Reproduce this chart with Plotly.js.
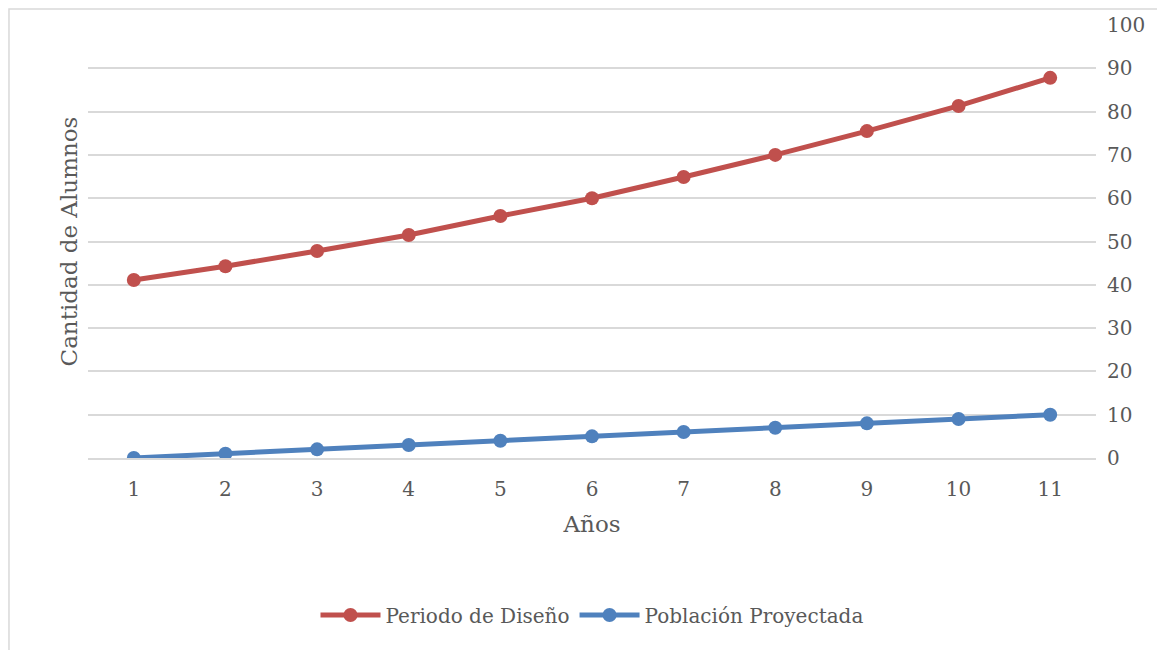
<!DOCTYPE html>
<html>
<head>
<meta charset="utf-8">
<script src="https://cdn.plot.ly/plotly-3.0.1.min.js"></script>
<style>html,body{margin:0;padding:0;background:#fff;}#chart{width:1157px;height:650px;}</style>
</head>
<body>
<div id="chart"></div>
<script>
const years = ["1","2","3","4","5","6","7","8","9","10","11"];
const periodoDiseno = [41.1, 44.3, 47.8, 51.5, 55.9, 60.0, 64.9, 70.0, 75.5, 81.3, 87.8];
const poblacionProyectada = [0, 1, 2, 3, 4, 5, 6, 7, 8, 9, 10];
const yTicks = [0,10,20,30,40,50,60,70,80,90,100];

const FONT = "DejaVu Serif, Liberation Serif, serif";
const GRAY = "#595959";

const traces = [
  {x: years, y: periodoDiseno, name: "Periodo de Diseño", type: "scatter", mode: "lines+markers",
   line: {color: "#C0504D", width: 5}, marker: {color: "#C0504D", size: 14}},
  {x: years, y: poblacionProyectada, name: "Población Proyectada", type: "scatter", mode: "lines+markers",
   line: {color: "#4F81BD", width: 5}, marker: {color: "#4F81BD", size: 14}}
];

const layout = {
  width: 1157, height: 650,
  margin: {l: 88, r: 61, t: 25, b: 192},
  paper_bgcolor: "#fff", plot_bgcolor: "#fff",
  font: {family: FONT, size: 19, color: GRAY},
  showlegend: true,
  legend: {orientation: "h", x: 0.5, xanchor: "center", y: -0.3626, yanchor: "middle",
           font: {family: FONT, size: 20, color: GRAY}, itemwidth: 60},
  xaxis: {type: "category", range: [-0.5, 10.5], showgrid: false, zeroline: false,
          showline: true, linecolor: "#D9D9D9", linewidth: 2, ticks: "", ticklabelstandoff: 12,
          tickfont: {family: FONT, size: 20, color: GRAY},
          title: {text: "Años", font: {family: FONT, size: 23, color: GRAY}, standoff: 16}},
  yaxis: {side: "right", range: [0, 100], tickvals: yTicks, ticktext: yTicks.map(String),
          showgrid: true, gridcolor: "#D9D9D9", gridwidth: 2, zeroline: false, showline: false,
          ticks: "", ticklabelstandoff: 10, tickfont: {family: FONT, size: 20, color: GRAY}},
  annotations: [{xref: "paper", yref: "paper", x: -0.004, y: 0.5, xanchor: "right", yanchor: "middle",
                 text: "Cantidad de Alumnos", textangle: -90, showarrow: false,
                 font: {family: FONT, size: 23, color: GRAY}}],
  shapes: [{type: "rect", xref: "paper", yref: "paper", x0: -0.0784, x1: 1.1, y0: -0.5, y1: 1.037,
            line: {color: "#D9D9D9", width: 1.5}, fillcolor: "rgba(0,0,0,0)", layer: "below"}]
};

Plotly.newPlot("chart", traces, layout, {displayModeBar: false, staticPlot: true});
</script>
</body>
</html>
